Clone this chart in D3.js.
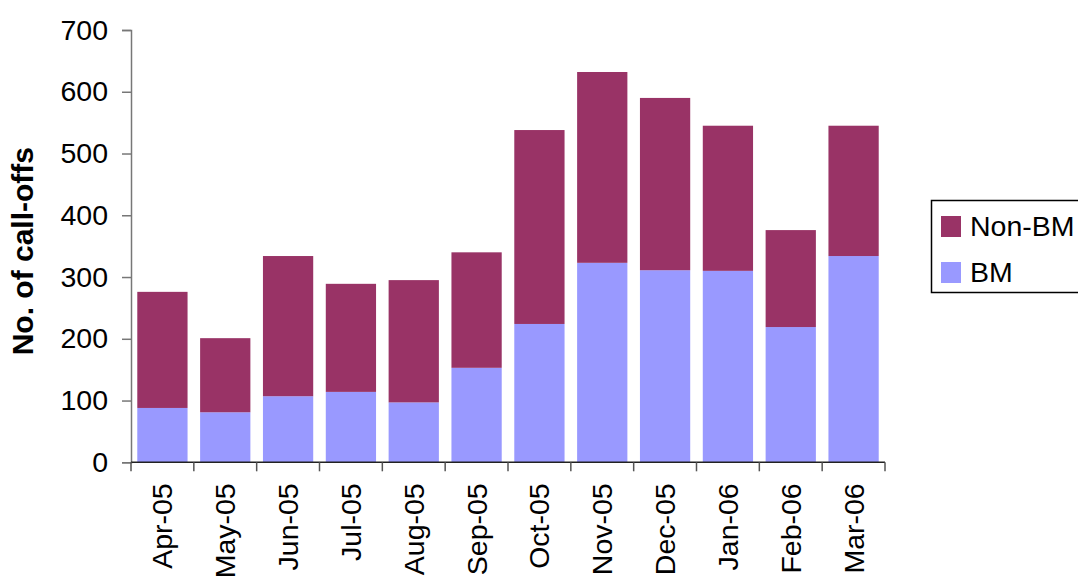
<!DOCTYPE html>
<html>
<head>
<meta charset="utf-8">
<script src="https://cdn.jsdelivr.net/npm/d3@7/dist/d3.min.js"></script>
<style>
  html, body { margin: 0; padding: 0; background: #fff; }
  svg { display: block; }
  text { font-family: "Liberation Sans", Arial, sans-serif; fill: #000; }
</style>
</head>
<body>
<svg id="chart" width="1078" height="576"></svg>
<script>
const categories = ["Apr-05","May-05","Jun-05","Jul-05","Aug-05","Sep-05","Oct-05","Nov-05","Dec-05","Jan-06","Feb-06","Mar-06"];
const bmValues    = [88, 81, 107, 114, 97, 153, 224, 323, 311, 310, 219, 334];
const nonBmValues = [188, 120, 227, 175, 198, 187, 314, 309, 279, 235, 157, 211];
const seriesNames = ["BM", "Non-BM"];
const seriesColors = ["#9999FF", "#993366"];
const yTicks = [0, 100, 200, 300, 400, 500, 600, 700];
const yTitle = "No. of call-offs";

const svg = d3.select("#chart");
const x0 = 131, x1 = 885, yTop = 30, yBottom = 462.3;

const x = d3.scaleBand().domain(categories).range([x0, x1]).paddingInner(0.2).paddingOuter(0.1);
const y = d3.scaleLinear().domain([0, 700]).range([yBottom, yTop]);

const rows = categories.map((c, i) => ({cat: c, "BM": bmValues[i], "Non-BM": nonBmValues[i]}));
const stacked = d3.stack().keys(seriesNames)(rows);

const g = svg.append("g");
stacked.forEach((s, si) => {
  g.selectAll(null).data(s).enter().append("rect")
    .attr("x", d => x(d.data.cat))
    .attr("width", x.bandwidth())
    .attr("y", d => y(d[1]))
    .attr("height", d => y(d[0]) - y(d[1]))
    .attr("fill", seriesColors[si]);
});

// Y axis
const yAxis = svg.append("g").attr("transform", `translate(${x0},0)`)
  .call(d3.axisLeft(y).tickValues(yTicks).tickSize(9).tickPadding(14).tickFormat(d3.format("d")));
yAxis.select(".domain").attr("stroke", "#777").attr("stroke-width", 1.5);
yAxis.selectAll(".tick line").attr("stroke", "#777").attr("stroke-width", 1.5);
yAxis.selectAll(".tick text").style("font-size", "28.5px").style("font-family", "'Liberation Sans', Arial, sans-serif").attr("fill", "#000");

// X axis with ticks at band boundaries
const xAxisG = svg.append("g");
xAxisG.append("line").attr("x1", x0).attr("x2", x1).attr("y1", yBottom).attr("y2", yBottom)
  .attr("stroke", "#222").attr("stroke-width", 1.5);
const step = x.step();
const boundaries = d3.range(categories.length + 1).map(i => x0 + i * step);
xAxisG.selectAll(null).data(boundaries).enter().append("line")
  .attr("x1", d => d).attr("x2", d => d)
  .attr("y1", yBottom).attr("y2", yBottom + 9)
  .attr("stroke", "#555").attr("stroke-width", 1.5);
xAxisG.selectAll(null).data(categories).enter().append("text")
  .attr("transform", d => `translate(${x(d) + x.bandwidth() / 2},${yBottom + 21}) rotate(-90)`)
  .attr("text-anchor", "end")
  .attr("dy", "0.35em")
  .style("font-size", "28.5px")
  .text(d => d);

// Y title
svg.append("text")
  .attr("transform", `translate(33,${(yTop + yBottom) / 2 + 5}) rotate(-90)`)
  .attr("text-anchor", "middle")
  .style("font-size", "30px")
  .style("font-weight", "bold")
  .text(yTitle);

// Legend
const leg = svg.append("g");
leg.append("rect").attr("x", 931.5).attr("y", 200.5).attr("width", 200).attr("height", 92)
  .attr("fill", "#fff").attr("stroke", "#000").attr("stroke-width", 1.5);
const legItems = [
  {name: seriesNames[1], color: seriesColors[1], y: 216},
  {name: seriesNames[0], color: seriesColors[0], y: 262}
];
legItems.forEach(it => {
  leg.append("rect").attr("x", 941).attr("y", it.y).attr("width", 20).attr("height", 21).attr("fill", it.color);
  leg.append("text").attr("x", 970).attr("y", it.y + 20).style("font-size", "28.5px").text(it.name);
});
</script>
</body>
</html>
